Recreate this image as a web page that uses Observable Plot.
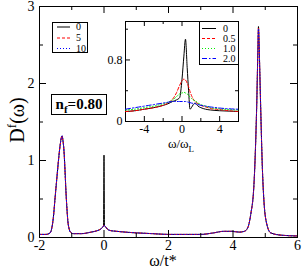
<!DOCTYPE html>
<html><head><meta charset="utf-8">
<script src="https://cdn.jsdelivr.net/npm/d3@7"></script>
<script src="https://cdn.jsdelivr.net/npm/@observablehq/plot@0.6"></script>
<style>
body{margin:0;background:#fff;}
#wrap{position:relative;width:302px;height:268px;font-family:"Liberation Serif","Times New Roman",serif;color:#000;overflow:hidden;}
#wrap > svg, #wrap > div{position:absolute;}
.lbl{white-space:nowrap;line-height:1;}
</style></head>
<body><div id="wrap"></div>
<script>
// ---------- main panel data ----------
const omega = [-2.0,-1.8,-1.67,-1.62,-1.57,-1.52,-1.46,-1.40,-1.36,-1.30,-1.27,-1.24,-1.21,-1.18,-1.15,-1.12,-1.08,-1.04,-0.95,-0.7,-0.4,-0.2,-0.1,-0.05,-0.015,0,0.015,0.05,0.1,0.2,0.4,1.0,1.5,2.0,2.5,3.0,3.4,3.7,3.95,4.2,4.35,4.45,4.55,4.65,4.70,4.74,4.77,4.79,4.81,4.84,4.87,4.91,4.96,5.05,5.17,5.5,6.0];
const d0  = [0.04,0.04,0.06,0.12,0.26,0.5,0.78,1.05,1.2,1.32,1.25,1.12,0.88,0.6,0.38,0.21,0.11,0.07,0.05,0.05,0.07,0.09,0.11,0.13,0.15,1.07,0.15,0.14,0.11,0.09,0.08,0.06,0.05,0.04,0.04,0.04,0.06,0.08,0.08,0.07,0.08,0.12,0.3,0.69,1.2,1.8,2.4,2.74,2.5,2.0,1.5,0.91,0.47,0.17,0.06,0.03,0.02];
const d5  = [0.04,0.04,0.06,0.12,0.26,0.5,0.78,1.05,1.2,1.32,1.25,1.12,0.88,0.6,0.38,0.21,0.11,0.07,0.05,0.05,0.07,0.09,0.11,0.13,0.15,0.16,0.15,0.14,0.11,0.09,0.08,0.06,0.05,0.04,0.04,0.04,0.06,0.08,0.08,0.07,0.08,0.12,0.3,0.69,1.2,1.8,2.4,2.72,2.5,2.0,1.5,0.91,0.47,0.17,0.06,0.03,0.02];
const d10 = [0.04,0.04,0.06,0.12,0.26,0.5,0.78,1.05,1.2,1.32,1.25,1.12,0.88,0.6,0.38,0.21,0.11,0.07,0.05,0.05,0.07,0.09,0.11,0.13,0.15,0.16,0.15,0.14,0.11,0.09,0.08,0.06,0.05,0.04,0.04,0.04,0.06,0.08,0.08,0.07,0.08,0.12,0.3,0.69,1.2,1.8,2.4,2.71,2.5,2.0,1.5,0.91,0.47,0.17,0.06,0.03,0.02];
const mainKeys = ["0","5","10"];
const xTicksMain = [-2,0,2,4,6], xMinorMain = [-1,1,3,5];
const yTicksMain = [0,1,2,3], yMinorMain = [0.5,1.5,2.5];

// ---------- inset data ----------
const omegaL = [-6,-5,-4,-3,-2,-1.5,-1,-0.6,-0.25,0,0.2,0.37,0.55,0.7,0.85,1.0,1.2,1.4,1.7,2,2.5,3,4,5,6];
const i00 = [0.13,0.14,0.16,0.18,0.21,0.23,0.26,0.28,0.31,0.55,0.85,1.07,0.7,0.4,0.16,0.18,0.22,0.24,0.2,0.18,0.16,0.15,0.14,0.135,0.13];
const i05 = [0.13,0.14,0.16,0.18,0.21,0.24,0.29,0.37,0.47,0.53,0.55,0.54,0.5,0.45,0.39,0.34,0.29,0.26,0.23,0.21,0.19,0.17,0.155,0.14,0.13];
const i10 = [0.15,0.16,0.18,0.2,0.23,0.25,0.28,0.32,0.36,0.37,0.38,0.37,0.36,0.34,0.32,0.3,0.28,0.27,0.24,0.22,0.2,0.18,0.165,0.155,0.15];
const i20 = [0.16,0.18,0.2,0.22,0.24,0.25,0.26,0.26,0.26,0.26,0.26,0.26,0.255,0.25,0.245,0.24,0.235,0.23,0.22,0.21,0.2,0.19,0.175,0.165,0.16];
const insetKeys = ["0","0.5","1.0","2.0"];
const xTicksIn = [-4,0,4], xMinorIn = [-2,2];
const yTicksIn = [0,0.8], yMinorIn = [0.4,1.2];

// ---------- styles ----------
const mainStyle = [
  {stroke:"#000000", dash:null},
  {stroke:"#ff0000", dash:"3,2"},
  {stroke:"#0000ff", dash:"1,2"}
];
const insetStyle = [
  {stroke:"#000000", dash:null},
  {stroke:"#ff0000", dash:"3,2"},
  {stroke:"#00ee00", dash:"1,2"},
  {stroke:"#0000ff", dash:"5,2,1.5,2"}
];

function frameTicks(xs, xm, ys, ym, pw, ph, L, l) {
  const m = [];
  m.push(Plot.tickX(xs, {x: d=>d, insetTop: ph - L}));
  m.push(Plot.tickX(xs, {x: d=>d, insetBottom: ph - L}));
  m.push(Plot.tickX(xm, {x: d=>d, insetTop: ph - l}));
  m.push(Plot.tickX(xm, {x: d=>d, insetBottom: ph - l}));
  m.push(Plot.tickY(ys, {y: d=>d, insetRight: pw - L}));
  m.push(Plot.tickY(ys, {y: d=>d, insetLeft: pw - L}));
  m.push(Plot.tickY(ym, {y: d=>d, insetRight: pw - l}));
  m.push(Plot.tickY(ym, {y: d=>d, insetLeft: pw - l}));
  return m;
}

const wrap = document.getElementById("wrap");

// ---------- main chart ----------
const W = 302, H = 268, mL = 39, mR = 5, mT = 6, mB = 31;
const pw = W - mL - mR, ph = H - mT - mB;
const mainY = [d0, d5, d10];
const mainMarks = [Plot.frame({fill:"white", stroke:"#000"})];
mainY.forEach((arr, k) => {
  mainMarks.push(Plot.line(omega.map((w,i)=>({w, v:arr[i]})), {
    x:"w", y:"v", stroke: mainStyle[k].stroke, strokeDasharray: mainStyle[k].dash, strokeWidth: 1, curve: "monotone-x"
  }));
});
mainMarks.push(...frameTicks(xTicksMain, xMinorMain, yTicksMain, yMinorMain, pw, ph, 7, 4));
mainMarks.push(Plot.text(xTicksMain, {x: d=>d, text: d=>String(d), frameAnchor:"bottom", lineAnchor:"top", dy: 3, fontSize: 14}));
mainMarks.push(Plot.text(yTicksMain, {y: d=>d, text: d=>String(d), frameAnchor:"left", textAnchor:"end", dx: -5, fontSize: 14}));

const main = Plot.plot({
  width: W, height: H, marginLeft: mL, marginRight: mR, marginTop: mT, marginBottom: mB,
  x: {domain: [-2, 6], axis: null},
  y: {domain: [0, 3], axis: null},
  style: {fontFamily: '"Liberation Serif", serif', background: "transparent", color: "#000"},
  marks: mainMarks
});
main.style.left = "0px"; main.style.top = "0px";
wrap.appendChild(main);

// ---------- inset chart ----------
const iL = 24, iR = 2, iT = 2, iB = 16;
const iPW = 113, iPH = 100;
const iW = iPW + iL + iR, iH = iPH + iT + iB;
const insetY = [i00, i05, i10, i20];
const insetMarks = [Plot.frame({fill:"white", stroke:"#000"})];
insetY.forEach((arr, k) => {
  insetMarks.push(Plot.line(omegaL.map((w,i)=>({w, v:arr[i]})), {
    x:"w", y:"v", stroke: insetStyle[k].stroke, strokeDasharray: insetStyle[k].dash, strokeWidth: 1, curve: "monotone-x"
  }));
});
insetMarks.push(...frameTicks(xTicksIn, xMinorIn, yTicksIn, yMinorIn, iPW, iPH, 5, 3));
insetMarks.push(Plot.text(xTicksIn, {x: d=>d, text: d=>String(d), frameAnchor:"bottom", lineAnchor:"top", dy: 3, fontSize: 12}));
insetMarks.push(Plot.text(yTicksIn, {y: d=>d, text: d=>String(d), frameAnchor:"left", textAnchor:"end", dx: -3, fontSize: 12}));
const inset = Plot.plot({
  width: iW, height: iH, marginLeft: iL, marginRight: iR, marginTop: iT, marginBottom: iB,
  x: {domain: [-6, 6], axis: null},
  y: {domain: [0, 1.3], axis: null},
  style: {fontFamily: '"Liberation Serif", serif', background: "transparent", color: "#000", overflow: "visible"},
  marks: insetMarks
});
inset.style.left = (125 - iL) + "px"; inset.style.top = (21 - iT) + "px";
wrap.appendChild(inset);

// ---------- text labels & legends ----------
function addDiv(html, css) {
  const d = document.createElement("div");
  d.className = "lbl";
  d.innerHTML = html;
  Object.assign(d.style, css);
  wrap.appendChild(d);
  return d;
}
addDiv('D<sup style="font-size:13px;vertical-align:0;position:relative;top:-8px">f</sup>(ω)',
  {left:"17px", top:"120px", fontSize:"20px", transform:"translate(-50%,-50%) rotate(-90deg)"});
addDiv('ω/t*', {left:"163px", top:"261px", fontSize:"16px", transform:"translate(-50%,-50%)"});
addDiv('ω/ω<sub style="font-size:9px;vertical-align:0;position:relative;top:4px">L</sub>',
  {left:"181px", top:"143px", fontSize:"13px", transform:"translate(-50%,-50%)"});
addDiv('n<sub style="font-size:11px;vertical-align:0;position:relative;top:4px">f</sub>=0.80',
  {left:"51px", top:"94px", width:"54px", height:"19px", border:"1px solid #000", background:"#fff",
   fontSize:"15px", fontWeight:"bold", textAlign:"center", lineHeight:"19px"});

function legend(keys, styles, box, rows, lx0, lx1, tx) {
  const ns = "http://www.w3.org/2000/svg";
  const svg = document.createElementNS(ns, "svg");
  svg.setAttribute("width", box.w); svg.setAttribute("height", box.h);
  svg.style.left = box.x + "px"; svg.style.top = box.y + "px";
  const r = document.createElementNS(ns, "rect");
  r.setAttribute("x", 0.5); r.setAttribute("y", 0.5);
  r.setAttribute("width", box.w - 1); r.setAttribute("height", box.h - 1);
  r.setAttribute("fill", "#fff"); r.setAttribute("stroke", "#000");
  svg.appendChild(r);
  keys.forEach((k, i) => {
    const l = document.createElementNS(ns, "line");
    l.setAttribute("x1", lx0); l.setAttribute("x2", lx1);
    l.setAttribute("y1", rows[i] + 0.5); l.setAttribute("y2", rows[i] + 0.5);
    l.setAttribute("stroke", styles[i].stroke);
    if (styles[i].dash) l.setAttribute("stroke-dasharray", styles[i].dash);
    svg.appendChild(l);
    const t = document.createElementNS(ns, "text");
    t.setAttribute("x", tx); t.setAttribute("y", rows[i]);
    t.setAttribute("dy", "0.35em");
    t.setAttribute("font-size", "10");
    t.setAttribute("font-family", '"Liberation Serif", serif');
    t.textContent = k;
    svg.appendChild(t);
  });
  wrap.appendChild(svg);
}
legend(mainKeys, mainStyle, {x:52, y:22, w:36, h:31}, [4.5, 15.5, 26], 5, 18, 24);
legend(insetKeys, insetStyle, {x:199, y:21, w:40, h:44}, [7, 17, 27, 37], 3, 17, 24);
</script>
</body></html>
